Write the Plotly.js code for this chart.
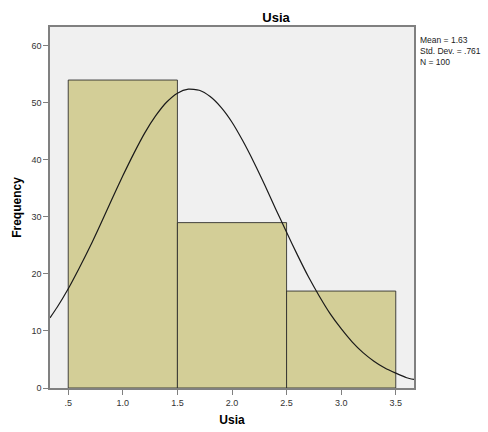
<!DOCTYPE html>
<html>
<head>
<meta charset="utf-8">
<script src="https://cdn.plot.ly/plotly-3.0.1.min.js"></script>
<style>html,body{margin:0;padding:0;background:#fff;}#chart{width:488px;height:432px;}</style>
</head>
<body>
<div id="chart"></div>
<script>
// Histogram bins (centers) and counts
var binCenters = [1.0, 2.0, 3.0];
var counts = [54, 29, 17];
// Normal curve points
var curveX = [0.333, 0.4, 0.5, 0.6, 0.7, 0.8, 0.9, 1.0, 1.1, 1.2, 1.3, 1.4, 1.5, 1.6, 1.7, 1.8, 1.9, 2.0,
              2.1, 2.2, 2.3, 2.4, 2.5, 2.6, 2.7, 2.8, 2.9, 3.0, 3.1, 3.2, 3.3, 3.4, 3.5, 3.6, 3.667];
var curveY = [12.3, 14.2, 17.4, 21.0, 24.8, 28.9, 33.1, 37.2, 41.1, 44.7, 47.7, 50.1, 51.7, 52.4, 52.2, 51.1, 49.2, 46.6,
              43.3, 39.6, 35.6, 31.4, 27.3, 23.3, 19.5, 16.1, 13.0, 10.4, 8.1, 6.2, 4.7, 3.5, 2.6, 1.8, 1.5];
var xTickVals = [0.5, 1.0, 1.5, 2.0, 2.5, 3.0, 3.5];
var xTickText = ['.5', '1.0', '1.5', '2.0', '2.5', '3.0', '3.5'];
var yTickVals = [0, 10, 20, 30, 40, 50, 60];
var statsLines = ['Mean = 1.63', 'Std. Dev. = .761', 'N = 100'];

var font = 'Liberation Sans, Arial, sans-serif';
var data = [
  {
    type: 'bar', x: binCenters, y: counts, width: 1,
    marker: {color: '#D3CE97', line: {color: 'rgba(40,40,40,0.85)', width: 1}},
    hoverinfo: 'x+y'
  },
  {
    type: 'scatter', mode: 'lines', x: curveX, y: curveY,
    line: {color: '#1a1a1a', width: 1.2, shape: 'spline', smoothing: 0.6},
    hoverinfo: 'skip'
  }
];
var layout = {
  width: 488, height: 432,
  margin: {l: 50, r: 74, t: 27, b: 44},
  paper_bgcolor: '#ffffff', plot_bgcolor: '#F0F0F0',
  showlegend: false,
  font: {family: font, size: 9, color: '#333333'},
  title: {text: '<b>Usia</b>', font: {family: font, size: 13, color: '#000'}, x: 276/488, xanchor: 'center', y: 1 - 17/432, yanchor: 'middle'},
  xaxis: {
    range: [0.333, 3.667], tickvals: xTickVals, ticktext: xTickText,
    showgrid: false, zeroline: false, showline: true, mirror: true,
    linecolor: '#808080', linewidth: 1.5, ticks: 'outside', ticklen: 5, tickcolor: '#808080', tickwidth: 1.2,
    tickfont: {family: font, size: 9, color: '#333'},
    title: {text: '<b>Usia</b>', font: {family: font, size: 12, color: '#000'}, standoff: 9}
  },
  yaxis: {
    range: [0, 63.3], tickvals: yTickVals,
    showgrid: false, zeroline: false, showline: true, mirror: true,
    linecolor: '#808080', linewidth: 1.5, ticks: 'outside', ticklen: 5, tickcolor: '#808080', tickwidth: 1.2,
    tickfont: {family: font, size: 9, color: '#333'},
    title: {text: '<b>Frequency</b>', font: {family: font, size: 12, color: '#000'}, standoff: 7}
  },
  annotations: [{
    xref: 'paper', yref: 'paper', x: 1.012, y: 0.9349, xanchor: 'left', yanchor: 'middle',
    align: 'left', showarrow: false, text: statsLines.join('<br>'),
    font: {family: font, size: 8.5, color: '#222'}
  }]
};
Plotly.newPlot('chart', data, layout, {displayModeBar: false});
</script>
</body>
</html>
